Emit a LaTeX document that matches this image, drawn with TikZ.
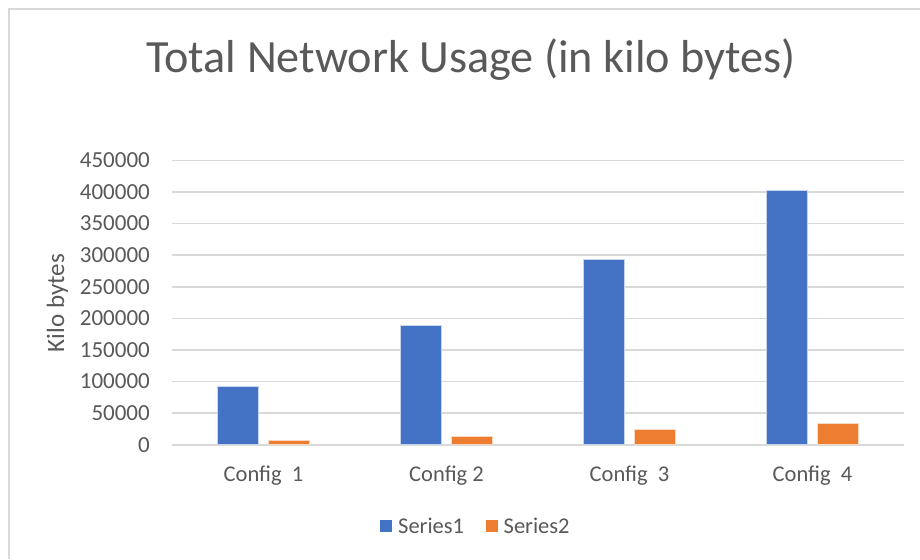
\documentclass[tikz,border=0pt]{standalone}
\usepackage{fontspec}
\setmainfont{Carlito}
\definecolor{txt}{HTML}{595959}
\definecolor{gridgray}{HTML}{D9D9D9}
\definecolor{sone}{HTML}{4472C4}
\definecolor{stwo}{HTML}{ED7D31}
\tikzset{
  gridline/.style={gridgray, line width=1.6pt},
  ticklabel/.style={anchor=east, inner sep=0pt, text=txt, font=\fontsize{23}{25}\selectfont},
  catlabel/.style={anchor=base, inner sep=0pt, text=txt, font=\fontsize{22.5}{24}\selectfont},
  barone/.style={fill=sone, draw=white!70!sone, line width=0.6pt},
  bartwo/.style={fill=stwo, draw=white!70!stwo, line width=0.6pt},
}
\begin{document}
\begin{tikzpicture}[x=1pt, y=-1pt]
\useasboundingbox (0,0) rectangle (920,559);
\fill[white] (0,0) rectangle (920,559);
% chart frame
\draw[gridgray, line width=1.8pt] (9,559) -- (9,9) -- (920,9);
% title
\node[anchor=base, inner sep=0pt, text=txt, font=\fontsize{46.2}{50}\selectfont] (title) at (471,72.3) {Total Network Usage (in kilo bytes)};
% horizontal grid and value labels (one step = 50000 = 31.6pt)
\foreach \i/\val in {0/0,1/50000,2/100000,3/150000,4/200000,5/250000,6/300000,7/350000,8/400000,9/450000}{
  \pgfmathsetmacro{\yy}{444.7-\i*31.6}
  \draw[gridline] (172,\yy) -- (904,\yy);
  \node[ticklabel] (tick\i) at (150,\yy) {\val};
}
% axis title
\node[rotate=90, anchor=base, inner sep=0pt, text=txt, font=\fontsize{25}{27}\selectfont] (ytitle) at (64,303) {Kilo bytes};
% bars (values in thousands of kilo bytes)
\foreach \c/\a/\b in {0/92.5/7.1, 1/189.4/13.8, 2/293.4/23.7, 3/403.0/33.2}{
  \pgfmathsetmacro{\cx}{263.5+183*\c}
  \pgfmathsetmacro{\ya}{444.7-\a*0.632}
  \pgfmathsetmacro{\yb}{444.7-\b*0.632}
  \draw[barone] (\cx-46.5,444.7) rectangle (\cx-5.5,\ya);
  \draw[bartwo] (\cx+5,444.7) rectangle (\cx+46,\yb);
}
% category labels
\node[catlabel] (c1) at (263.5,481.7) {Config\ \ 1};
\node[catlabel] (c2) at (446.5,481.7) {Config 2};
\node[catlabel] (c3) at (629.5,481.7) {Config\ \ 3};
\node[catlabel] (c4) at (812.5,481.7) {Config\ \ 4};
% legend
\fill[sone] (380,520) rectangle (392,532);
\node[anchor=base west, inner sep=0pt, text=txt, font=\fontsize{22.5}{24}\selectfont] (leg1) at (398,533) {Series1};
\fill[stwo] (486,520) rectangle (498,532);
\node[anchor=base west, inner sep=0pt, text=txt, font=\fontsize{22.5}{24}\selectfont] (leg2) at (503.5,533) {Series2};
\end{tikzpicture}
\end{document}
